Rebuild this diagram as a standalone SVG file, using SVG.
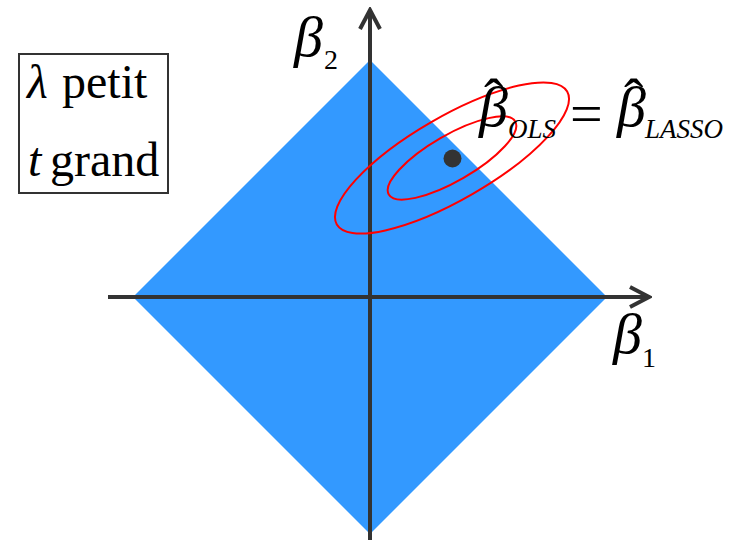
<svg xmlns="http://www.w3.org/2000/svg" width="731" height="540" viewBox="0 0 731 540">
<style>
text{font-family:'Liberation Serif','Times New Roman',serif;fill:#000}
.i{font-style:italic}
.b{font-size:58px;font-style:italic}
.s{font-size:27px;font-style:italic}
.n{font-size:28px}
.h{font-size:58px}
.lg{font-size:48px}
.ax{stroke:#333;stroke-width:4;fill:none}
.el{stroke:#FF0000;stroke-width:2;fill:none}
</style>
<defs>
<marker id="arr" viewBox="0 0 24 24" refX="21" refY="12" markerWidth="24" markerHeight="24" markerUnits="userSpaceOnUse" orient="auto">
<path d="M2,2 L21,12 L2,22" fill="none" stroke="#333" stroke-width="4"/>
</marker>
</defs>
<rect width="731" height="540" fill="#fff"/>
<g id="diamond"><polygon points="370,60 607,297 370,534 133,297" fill="#3399FF"/></g>
<g id="connectors">
<line class="ax" x1="108" y1="297" x2="649" y2="297" marker-end="url(#arr)"/>
<line class="ax" x1="370" y1="540" x2="370" y2="10" marker-end="url(#arr)"/>
</g>
<g id="ellipses">
<ellipse class="el" cx="452" cy="158" rx="133" ry="41.5" transform="rotate(-30 452 158)"/>
<ellipse class="el" cx="452" cy="158" rx="73" ry="23" transform="rotate(-30 452 158)"/>
<circle cx="452.5" cy="158.5" r="9" fill="#333"/>
</g>
<g id="legend">
<rect x="19" y="54" width="149" height="139" fill="#fff" stroke="#333" stroke-width="2"/>
<text class="lg" y="98"><tspan class="i" x="27">λ</tspan><tspan x="62">petit</tspan></text>
<text class="lg" y="176"><tspan class="i" x="28">t</tspan><tspan x="50">grand</tspan></text>
</g>
<g id="label-b2"><text class="b" x="294" y="56">β</text><text class="n" x="324" y="69">2</text></g>
<g id="label-b1"><text class="b" x="613" y="353">β</text><text class="n" x="642" y="367">1</text></g>
<g id="label-eq">
<text class="b" x="479" y="126">β</text><text class="h" x="484" y="118">ˆ</text>
<text class="s" x="508" y="138">OLS</text>
<text class="h" x="570" y="133">=</text>
<text class="b" x="617" y="126">β</text><text class="h" x="624" y="118">ˆ</text>
<text class="s" x="645" y="138">LASSO</text>
</g>
</svg>
